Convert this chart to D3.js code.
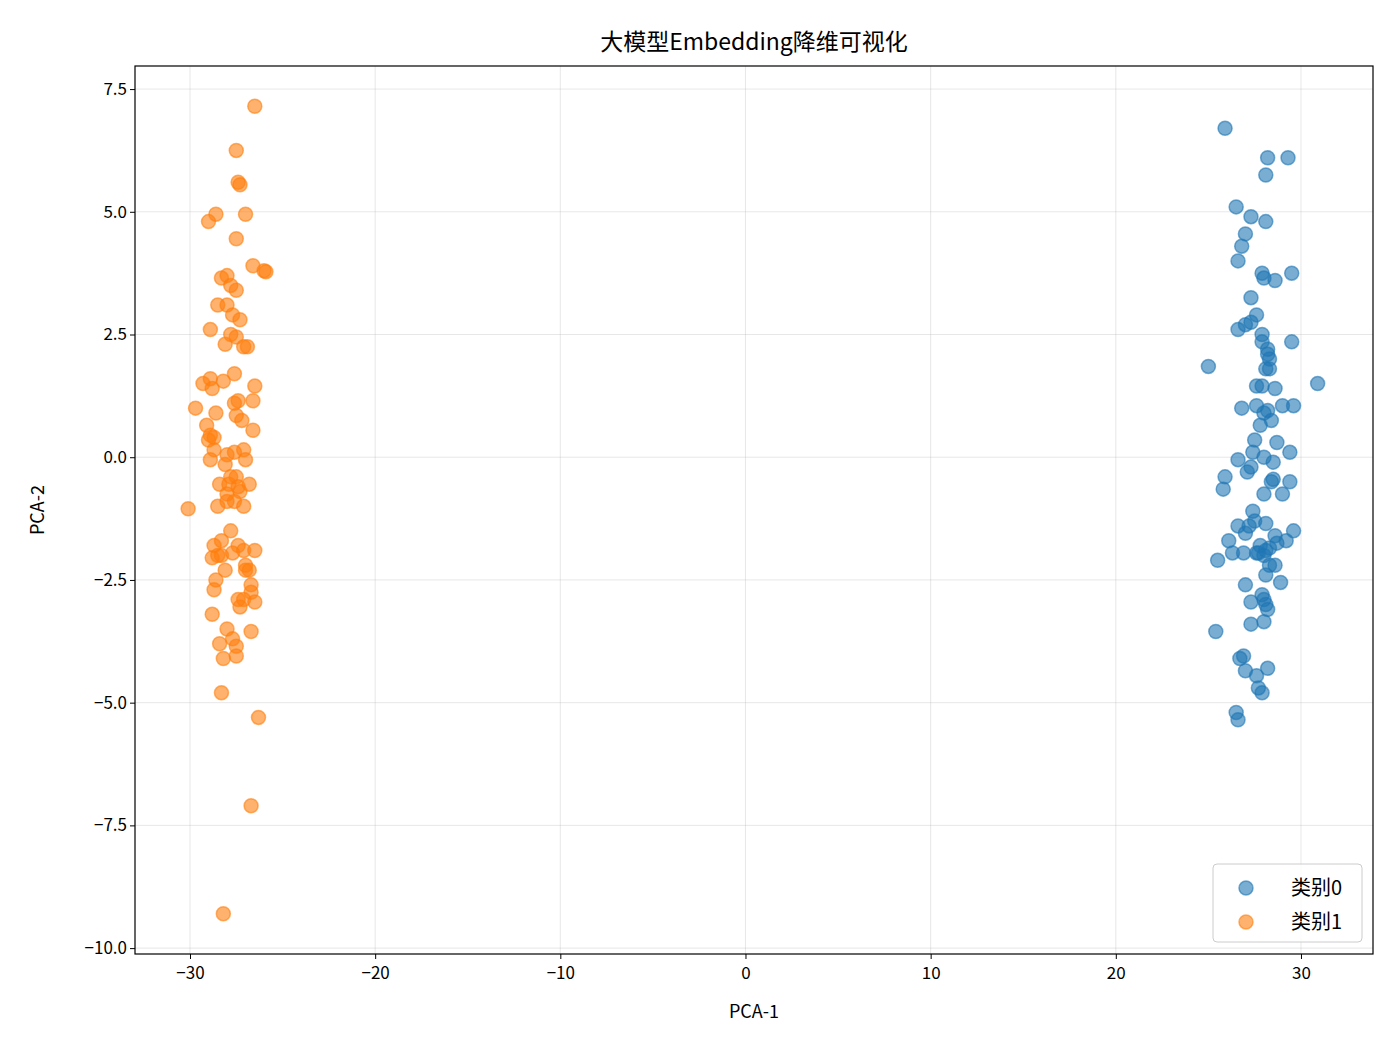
<!DOCTYPE html><html><head><meta charset="utf-8"><script src="https://cdn.jsdelivr.net/npm/d3@7"></script>
<style>body{margin:0;background:#fff}text{font-family:"Noto Sans CJK SC",sans-serif}</style></head><body><svg id="c" width="1400" height="1050"></svg><script>
const class0=[[25.9,6.7],[28.2,6.1],[29.3,6.1],[28.1,5.75],[26.5,5.1],[27.3,4.9],[28.1,4.8],[27,4.55],[26.8,4.3],[26.6,4.0],[27.9,3.75],[28,3.65],[28.6,3.6],[29.5,3.75],[27.3,3.25],[27.6,2.9],[27.3,2.75],[27,2.7],[26.6,2.6],[27.9,2.5],[27.9,2.35],[28.2,2.2],[28.2,2.1],[28.3,2.0],[29.5,2.35],[25.0,1.85],[28.1,1.8],[28.3,1.8],[30.9,1.5],[27.6,1.45],[27.9,1.45],[28.6,1.4],[27.6,1.05],[26.8,1.0],[28.2,0.95],[28.0,0.9],[29.0,1.05],[29.6,1.05],[28.4,0.75],[27.8,0.65],[27.5,0.35],[28.7,0.3],[27.4,0.1],[28,0],[29.4,0.1],[26.6,-0.05],[28.5,-0.1],[27.3,-0.2],[27.1,-0.3],[25.9,-0.4],[28.4,-0.5],[28.5,-0.45],[29.4,-0.5],[25.8,-0.65],[28.0,-0.75],[29.0,-0.75],[27.4,-1.1],[26.6,-1.4],[27.0,-1.55],[27.5,-1.3],[27.2,-1.4],[28.1,-1.35],[29.6,-1.5],[26.1,-1.7],[28.6,-1.6],[27.6,-1.95],[27.8,-1.8],[28.1,-1.9],[28.3,-1.85],[28.7,-1.75],[29.2,-1.7],[26.3,-1.95],[26.9,-1.95],[27.7,-1.95],[28.0,-2.0],[25.5,-2.1],[28.3,-2.2],[28.6,-2.2],[28.1,-2.4],[28.9,-2.55],[27.0,-2.6],[27.9,-2.8],[28.0,-2.9],[28.1,-3.0],[28.2,-3.1],[27.3,-2.95],[27.3,-3.4],[28,-3.35],[25.4,-3.55],[26.9,-4.05],[26.7,-4.1],[27,-4.35],[27.6,-4.45],[28.2,-4.3],[27.7,-4.7],[27.9,-4.8],[26.5,-5.2],[26.6,-5.35]];
const class1=[[-26.5,7.15],[-27.5,6.25],[-27.4,5.6],[-27.3,5.55],[-29,4.8],[-28.6,4.95],[-27,4.95],[-27.5,4.45],[-26.6,3.9],[-26,3.8],[-25.9,3.78],[-28.3,3.65],[-28,3.7],[-27.8,3.5],[-27.5,3.4],[-28.5,3.1],[-28,3.1],[-27.7,2.9],[-27.3,2.8],[-28.9,2.6],[-27.8,2.5],[-27.5,2.45],[-28.1,2.3],[-27.1,2.25],[-26.9,2.25],[-27.6,1.7],[-29.3,1.5],[-28.9,1.6],[-28.8,1.4],[-28.2,1.55],[-26.5,1.45],[-27.4,1.15],[-27.6,1.1],[-26.6,1.15],[-29.7,1.0],[-28.6,0.9],[-27.5,0.85],[-27.2,0.75],[-29.1,0.65],[-28.9,0.45],[-29,0.35],[-28.7,0.4],[-26.6,0.55],[-28.7,0.15],[-27.6,0.1],[-28,0.05],[-27.1,0.15],[-28.9,-0.05],[-28.1,-0.15],[-27,-0.05],[-27.8,-0.4],[-27.5,-0.4],[-28.4,-0.55],[-27.9,-0.55],[-27.4,-0.6],[-26.8,-0.55],[-28,-0.75],[-27.3,-0.7],[-27.6,-0.9],[-28,-0.9],[-28.5,-1.0],[-27.1,-1.0],[-30.1,-1.05],[-27.8,-1.5],[-28.7,-1.8],[-28.3,-1.7],[-27.4,-1.8],[-27.1,-1.9],[-26.5,-1.9],[-28.5,-2.0],[-28.8,-2.05],[-28.3,-2.0],[-27.7,-1.95],[-27.0,-2.2],[-28.1,-2.3],[-27.0,-2.3],[-26.8,-2.3],[-28.6,-2.5],[-28.7,-2.7],[-26.7,-2.6],[-26.7,-2.75],[-27.4,-2.9],[-27.1,-2.9],[-26.5,-2.95],[-27.3,-3.05],[-28.8,-3.2],[-28,-3.5],[-26.7,-3.55],[-27.7,-3.7],[-27.5,-3.85],[-28.4,-3.8],[-27.5,-4.05],[-28.2,-4.1],[-28.3,-4.8],[-26.3,-5.3],[-26.7,-7.1],[-28.2,-9.3]];
const xTicks=[-30,-20,-10,0,10,20,30];
const yTicks=[-10,-7.5,-5,-2.5,0,2.5,5,7.5];
const seriesNames=["类别0","类别1"];
const colors=["#1f77b4","#ff7f0e"];
const svg=d3.select("#c");
const L=135,R=1373,T=66,B=954;
const x=d3.scaleLinear().domain([-32.97,33.89]).range([L,R]);
const y=d3.scaleLinear().domain([-10.12,7.97]).range([B,T]);
const fmt=d=>d3.format(".1f")(d).replace("-","\u2212");
const g=svg.append("g");
g.selectAll(".gx").data(xTicks).join("line").attr("x1",d=>x(d)).attr("x2",d=>x(d)).attr("y1",T).attr("y2",B).attr("stroke","#b0b0b0").attr("stroke-opacity",0.3);
g.selectAll(".gy").data(yTicks).join("line").attr("y1",d=>y(d)).attr("y2",d=>y(d)).attr("x1",L).attr("x2",R).attr("stroke","#b0b0b0").attr("stroke-opacity",0.3);
[class0,class1].forEach((s,i)=>{
 svg.append("g").selectAll("circle").data(s).join("circle").attr("cx",d=>x(d[0])).attr("cy",d=>y(d[1])).attr("r",7)
 .attr("fill",colors[i]).attr("fill-opacity",0.6).attr("stroke",colors[i]).attr("stroke-opacity",0.6).attr("stroke-width",1.5);
});
svg.append("g").attr("transform",`translate(0,${B})`).call(d3.axisBottom(x).tickValues(xTicks).tickSize(5).tickFormat(d=>String(d).replace("-","\u2212"))).call(a=>{a.select(".domain").remove();a.selectAll("text").attr("font-size",17).attr("fill","#000").attr("dy","1em")});
svg.append("g").attr("transform",`translate(${L},0)`).call(d3.axisLeft(y).tickValues(yTicks).tickSize(5).tickFormat(fmt)).call(a=>{a.select(".domain").remove();a.selectAll("text").attr("font-size",17).attr("fill","#000")});
svg.append("rect").attr("x",L).attr("y",T).attr("width",R-L).attr("height",B-T).attr("fill","none").attr("stroke","#000").attr("stroke-width",1.2);
svg.append("text").attr("x",(L+R)/2).attr("y",50).attr("text-anchor","middle").attr("font-size",23).text("大模型Embedding降维可视化");
svg.append("text").attr("x",(L+R)/2).attr("y",1018).attr("text-anchor","middle").attr("font-size",18).text("PCA-1");
svg.append("text").attr("transform",`translate(44,${(T+B)/2}) rotate(-90)`).attr("text-anchor","middle").attr("font-size",18).text("PCA-2");
const lg=svg.append("g").attr("transform","translate(1213,864)");
lg.append("rect").attr("width",149).attr("height",78).attr("rx",4).attr("fill","#fff").attr("fill-opacity",0.8).attr("stroke","#ccc");
seriesNames.forEach((n,i)=>{
 lg.append("circle").attr("cx",33).attr("cy",24+i*34).attr("r",7).attr("fill",colors[i]).attr("fill-opacity",0.6).attr("stroke",colors[i]).attr("stroke-opacity",0.6).attr("stroke-width",1.5);
 lg.append("text").attr("x",78).attr("y",31+i*34).attr("font-size",20).text(n);
});
</script></body></html>
